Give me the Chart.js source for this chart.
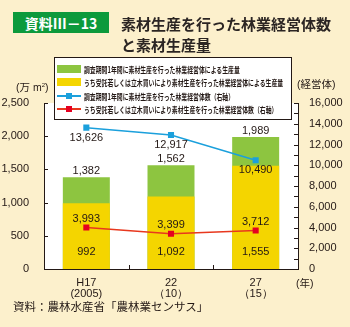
<!DOCTYPE html>
<html lang="ja">
<head>
<meta charset="utf-8">
<title>素材生産を行った林業経営体数と素材生産量</title>
<script src="https://cdn.jsdelivr.net/npm/chart.js@4.4.1/dist/chart.umd.min.js"></script>
<style>
  html, body { margin: 0; padding: 0; background: #FCF0CC; }
  #wrap { position: relative; width: 350px; height: 327px; overflow: hidden;
          font-family: "Noto Sans CJK JP", "Noto Sans", sans-serif; color: #231815; }
  #chart { position: absolute; left: 0; top: 0; }
  .abs { position: absolute; white-space: nowrap; line-height: 1; }
  #badge { left: 13px; top: 12px; width: 96px; height: 21px; background: #0C9A3C; color: #fff;
           font-weight: 700; font-size: 14px; display: flex; align-items: center; justify-content: center; }
  .title { font-weight: 700; font-size: 15px; left: 121px; color: #2b2523; }
  .unit { font-family: "Liberation Sans", "Noto Sans CJK JP", sans-serif; font-size: 10.5px; }
  .unit .jp { font-family: "Noto Sans CJK JP", sans-serif; }
  #legend { position: absolute; left: 54px; top: 57px; width: 236px; height: 61px;
            background: #fff; border: 1px solid #231815; overflow: hidden; }
  .row { position: absolute; left: 0; height: 12px; width: 236px; }
  .sw { position: absolute; left: 2px; top: 2px; width: 24px; height: 8px; }
  .ln { position: absolute; left: 2px; top: 5px; width: 24px; height: 2px; }
  .mk { position: absolute; left: 11px; top: 3px; width: 6px; height: 6px; }
  .tx { position: absolute; left: 29px; top: 0; font-size: 8.5px; font-weight: 700; line-height: 12px;
        transform: scaleX(0.69); transform-origin: left center; white-space: nowrap; color: #231815; }
  #source { left: 13px; top: 301px; font-size: 11.5px; }
</style>
</head>
<body>
<div id="wrap">
  <canvas id="chart" width="350" height="327"></canvas>
  <div class="abs" id="badge">資料Ⅲ－13</div>
  <div class="abs title" style="top:16px;">素材生産を行った林業経営体数</div>
  <div class="abs title" style="top:37px;">と素材生産量</div>
  <div class="abs unit" style="left:16px; top:82px;">(<span class="jp">万</span> m<sup style="font-size:6px;vertical-align:4px;">2</sup>)</div>
  <div class="abs unit" style="left:297px; top:79px;">(<span class="jp">経営体</span>)</div>
  <div class="abs unit" style="left:296px; top:278px;">(<span class="jp">年</span>)</div>
  <div id="legend"></div>
  <div class="abs" id="source">資料：農林水産省「農林業センサス」</div>
</div>
<script>
// Survey years (Heisei year / Western year)
const years = [['H17', '(2005)'], ['22', '（10）'], ['27', '（15）']];

// Log production, 10,000 m³ (left axis)
const outputAll = [1382, 1562, 1989];
const outputContract = [992, 1092, 1555];

// Number of forestry management entities (right axis)
const entitiesAll = [13626, 12917, 10490];
const entitiesContract = [3993, 3399, 3712];

// Axis ranges
const outputMax = 2500, outputStep = 500;
const entityMax = 16000, entityStep = 1000, entityLabelStep = 2000;

const seriesNames = [
  '調査期間1年間に素材生産を行った林業経営体による生産量',
  'うち受託若しくは立木買いにより素材生産を行った林業経営体による生産量',
  '調査期間1年間に素材生産を行った林業経営体数（右軸）',
  'うち受託若しくは立木買いにより素材生産を行った林業経営体数（右軸）'
];

const NUM_FONT = '"Liberation Sans", Arial, sans-serif';
const INK = '#231815';
const fmt = v => v.toLocaleString('en-US');

// White plotting area
const plotBackground = {
  id: 'plotBackground',
  beforeDraw(chart) {
    const { ctx, chartArea: a } = chart;
    ctx.save();
    ctx.fillStyle = '#ffffff';
    ctx.fillRect(a.left, a.top, a.right - a.left, a.bottom - a.top);
    ctx.restore();
  }
};

// Short inward tick marks on all three axes
const innerTicks = {
  id: 'innerTicks',
  afterDatasetsDraw(chart) {
    const { ctx, chartArea: a, scales } = chart;
    const len = 4;
    ctx.save();
    ctx.strokeStyle = INK;
    ctx.lineWidth = 1;
    ctx.beginPath();
    scales.y.ticks.forEach((t, i) => {
      const py = Math.round(scales.y.getPixelForTick(i)) + 0.5;
      ctx.moveTo(a.left, py); ctx.lineTo(a.left + len, py);
    });
    scales.y1.ticks.forEach((t, i) => {
      const py = Math.round(scales.y1.getPixelForTick(i)) + 0.5;
      ctx.moveTo(a.right, py); ctx.lineTo(a.right - len, py);
    });
    for (let i = 1; i < scales.x.ticks.length; i++) {
      const px = Math.round((scales.x.getPixelForTick(i - 1) + scales.x.getPixelForTick(i)) / 2) + 0.5;
      ctx.moveTo(px, a.bottom); ctx.lineTo(px, a.bottom - len);
    }
    ctx.stroke();
    ctx.restore();
  }
};

// Value labels for every bar and point
const valueLabels = {
  id: 'valueLabels',
  afterDatasetsDraw(chart) {
    const { ctx, chartArea: a } = chart;
    ctx.save();
    ctx.font = '11px ' + NUM_FONT;
    ctx.fillStyle = INK;
    ctx.textAlign = 'center';
    ctx.textBaseline = 'middle';
    chart.data.datasets.forEach((ds, di) => {
      const meta = chart.getDatasetMeta(di);
      meta.data.forEach((el, i) => {
        const v = ds.data[i];
        let y;
        if (ds.labelAt === 'above') y = el.y - 6;
        else if (ds.labelAt === 'base') y = a.bottom - 17;
        else if (ds.labelAt === 'below') y = el.y + 10;
        else y = el.y - 9;
        ctx.fillText(fmt(v), el.x, y);
      });
    });
    ctx.restore();
  }
};

const chart = new Chart(document.getElementById('chart'), {
  data: {
    labels: years,
    datasets: [
      { type: 'line', label: seriesNames[3], data: entitiesContract, yAxisID: 'y1', order: 0,
        borderColor: '#E8381E', borderWidth: 1.5, pointStyle: 'rect', pointRadius: 4.3,
        pointBorderWidth: 0, pointBackgroundColor: '#E50021', labelAt: 'aboveMarker' },
      { type: 'line', label: seriesNames[2], data: entitiesAll, yAxisID: 'y1', order: 1,
        borderColor: '#1BA0DC', borderWidth: 1.5, pointStyle: 'rect', pointRadius: 4.3,
        pointBorderWidth: 0, pointBackgroundColor: '#1BA0DC', labelAt: 'below' },
      { type: 'bar', label: seriesNames[1], data: outputContract, yAxisID: 'y', order: 2,
        backgroundColor: '#F4D500', grouped: false, categoryPercentage: 0.555, barPercentage: 1,
        labelAt: 'base' },
      { type: 'bar', label: seriesNames[0], data: outputAll, yAxisID: 'y', order: 3,
        backgroundColor: '#8DC540', grouped: false, categoryPercentage: 0.555, barPercentage: 1,
        labelAt: 'above' }
    ]
  },
  options: {
    responsive: false,
    animation: false,
    devicePixelRatio: 1,
    layout: { padding: { top: 103, left: 0, right: 0, bottom: 0 } },
    plugins: { legend: { display: false }, tooltip: { enabled: false } },
    scales: {
      x: {
        grid: { display: false },
        border: { display: true, color: INK, width: 1 },
        ticks: { color: INK, font: { family: NUM_FONT, size: 11, lineHeight: 1.0 }, padding: 0,
                 maxRotation: 0, autoSkip: false },
        afterFit: s => { s.height = 58; }
      },
      y: {
        position: 'left', min: 0, max: outputMax,
        grid: { display: false },
        border: { display: true, color: INK, width: 1 },
        ticks: { stepSize: outputStep, color: INK, font: { family: NUM_FONT, size: 11 }, padding: 7,
                 callback: v => fmt(v) },
        afterFit: s => { s.width = 44; }
      },
      y1: {
        position: 'right', min: 0, max: entityMax,
        grid: { display: false },
        border: { display: true, color: INK, width: 1 },
        ticks: { stepSize: entityStep, color: INK, font: { family: NUM_FONT, size: 11 }, padding: 3,
                 autoSkip: false, callback: v => (v % entityLabelStep === 0 ? fmt(v) : '') },
        afterFit: s => { s.width = 52; }
      }
    }
  },
  plugins: [plotBackground, innerTicks, valueLabels]
});

// Legend box built from the dataset definitions (bars first, then lines)
(function buildLegend() {
  const box = document.getElementById('legend');
  const ordered = [3, 2, 1, 0].map(i => chart.data.datasets[i]);
  ordered.forEach((ds, r) => {
    const row = document.createElement('div');
    row.className = 'row';
    row.style.top = (5 + r * 13.3) + 'px';
    if (ds.type === 'bar') {
      const sw = document.createElement('div');
      sw.className = 'sw';
      sw.style.background = ds.backgroundColor;
      row.appendChild(sw);
    } else {
      const ln = document.createElement('div');
      ln.className = 'ln';
      ln.style.background = ds.borderColor;
      const mk = document.createElement('div');
      mk.className = 'mk';
      mk.style.background = ds.pointBackgroundColor;
      row.appendChild(ln);
      row.appendChild(mk);
    }
    const tx = document.createElement('div');
    tx.className = 'tx';
    tx.textContent = ds.label;
    row.appendChild(tx);
    box.appendChild(row);
  });
})();
</script>
</body>
</html>
